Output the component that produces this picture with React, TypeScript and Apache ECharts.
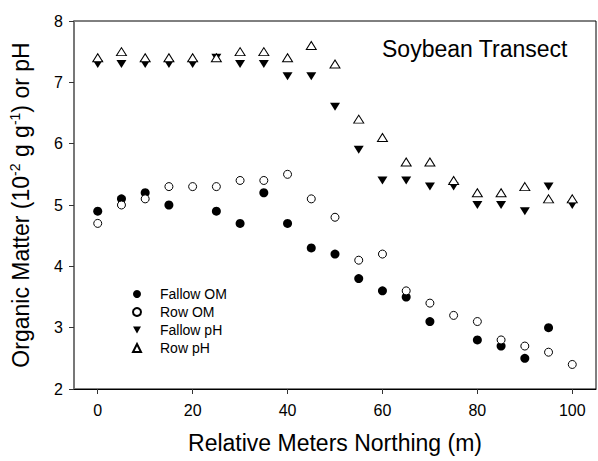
import React, { useEffect, useRef } from "react";
import * as echarts from "echarts";

const meters = [0, 5, 10, 15, 20, 25, 30, 35, 40, 45, 50, 55, 60, 65, 70, 75, 80, 85, 90, 95, 100];
const fallowOM = [4.9, 5.1, 5.2, 5.0, null, 4.9, 4.7, 5.2, 4.7, 4.3, 4.2, 3.8, 3.6, 3.5, 3.1, null, 2.8, 2.7, 2.5, 3.0, null];
const rowOM = [4.7, 5.0, 5.1, 5.3, 5.3, 5.3, 5.4, 5.4, 5.5, 5.1, 4.8, 4.1, 4.2, 3.6, 3.4, 3.2, 3.1, 2.8, 2.7, 2.6, 2.4];
const fallowPH = [7.3, 7.3, 7.3, 7.3, 7.3, 7.4, 7.3, 7.3, 7.1, 7.1, 6.6, 5.9, 5.4, 5.4, 5.3, 5.3, 5.0, 5.0, 4.9, 5.3, 5.0];
const rowPH = [7.4, 7.5, 7.4, 7.4, 7.4, 7.4, 7.5, 7.5, 7.4, 7.6, 7.3, 6.4, 6.1, 5.7, 5.7, 5.4, 5.2, 5.2, 5.3, 5.1, 5.1];
const xTicks = [0, 20, 40, 60, 80, 100];
const seriesNames = ["Fallow OM", "Row OM", "Fallow pH", "Row pH"];

const FONT = "'Liberation Sans', Arial, sans-serif";

function pairs(vals: (number | null)[]) {
  return meters
    .map((m, i) => [m, vals[i]])
    .filter((p) => p[1] !== null && p[1] !== undefined);
}

export default function App() {
  const ref = useRef<HTMLDivElement>(null);
  useEffect(() => {
    if (!ref.current) return;
    const chart = echarts.init(ref.current, undefined, { renderer: "svg" });
    chart.setOption({
      animation: false,
      backgroundColor: "#fff",
      textStyle: { fontFamily: FONT },
      title: {
        text: "Soybean Transect",
        left: 382,
        top: 37,
        padding: 0,
        textStyle: { fontFamily: FONT, fontSize: 23, fontWeight: "normal", color: "#000" },
      },
      grid: {
        left: 73,
        right: 2,
        top: 21,
        bottom: 72,
        show: true,
        borderColor: "#000",
        borderWidth: 1,
      },
      legend: {
        orient: "vertical",
        left: 132,
        top: 287,
        itemWidth: 8,
        itemHeight: 8,
        itemGap: 4,
        padding: 0,
        data: [
          { name: seriesNames[0] },
          { name: seriesNames[1] },
          { name: seriesNames[2], icon: "path://M0,0L10,0L5,9Z" },
          { name: seriesNames[3] },
        ],
        textStyle: {
          fontFamily: FONT,
          fontSize: 14,
          color: "#000",
          lineHeight: 14,
          padding: [0, 0, 0, 14],
        },
      },
      xAxis: {
        type: "value",
        min: -5,
        max: 105,
        name: "Relative Meters Northing (m)",
        nameLocation: "middle",
        nameGap: 42,
        nameTextStyle: { fontFamily: FONT, fontSize: 23, color: "#000" },
        axisLine: { show: true, onZero: false, lineStyle: { color: "#000", width: 1 } },
        axisTick: { show: true, inside: false, length: 5, customValues: xTicks, lineStyle: { color: "#333" } },
        axisLabel: { customValues: xTicks, margin: 13, fontFamily: FONT, fontSize: 16, color: "#000" },
        splitLine: { show: false },
      },
      yAxis: {
        type: "value",
        min: 2,
        max: 8,
        interval: 1,
        name: "Organic Matter (10{sup|-2} g g{sup|-1}) or pH",
        nameLocation: "middle",
        nameGap: 41,
        nameTextStyle: {
          fontFamily: FONT,
          fontSize: 23,
          color: "#000",
          lineHeight: 25,
          rich: {
            sup: { fontFamily: FONT, fontSize: 14, lineHeight: 14, verticalAlign: "top", color: "#000" },
          },
        },
        axisLine: { show: true, onZero: false, lineStyle: { color: "#777", width: 2 } },
        axisTick: { show: true, inside: false, length: 5, lineStyle: { color: "#333" } },
        axisLabel: { margin: 11, fontFamily: FONT, fontSize: 16, color: "#000" },
        splitLine: { show: false },
      },
      series: [
        {
          name: "Fallow OM",
          type: "scatter",
          symbol: "circle",
          symbolSize: 9,
          itemStyle: { color: "#000", opacity: 1 },
          data: pairs(fallowOM),
          z: 2,
        },
        {
          name: "Row OM",
          type: "scatter",
          symbol: "circle",
          symbolSize: 8,
          itemStyle: { color: "#fff", borderColor: "#000", borderWidth: 1, opacity: 1 },
          data: pairs(rowOM),
          z: 3,
        },
        {
          name: "Fallow pH",
          type: "scatter",
          symbol: "triangle",
          symbolRotate: 180,
          symbolSize: [10, 8],
          itemStyle: { color: "#000", opacity: 1 },
          data: pairs(fallowPH),
          z: 4,
        },
        {
          name: "Row pH",
          type: "scatter",
          symbol: "triangle",
          symbolSize: [10, 8],
          itemStyle: { color: "#fff", borderColor: "#000", borderWidth: 1, opacity: 1 },
          data: pairs(rowPH),
          z: 5,
        },
      ],
    });
    return () => chart.dispose();
  }, []);
  return <div ref={ref} style={{ width: 598, height: 461, position: "absolute", left: 0, top: 0 }} />;
}
